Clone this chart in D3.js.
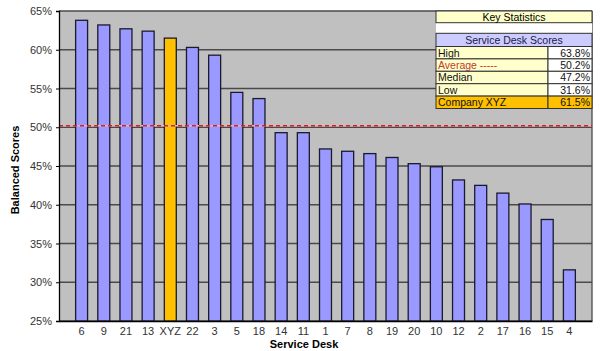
<!DOCTYPE html>
<html lang="en">
<head>
<meta charset="UTF-8">
<script src="https://d3js.org/d3.v7.min.js"></script>
<style>
  body { margin: 0; background: #fff; }
  svg text { font-family: Arial, "Liberation Sans", sans-serif; }
</style>
</head>
<body>
<div id="plot"></div>
<script>
  // data
  const desks = ["6","9","21","13","XYZ","22","3","5","18","14","11","1","7","8","19","20","10","12","2","17","16","15","4"];
  const scores = [63.8,63.2,62.7,62.4,61.5,60.3,59.3,54.5,53.7,49.3,49.3,47.2,46.9,46.6,46.1,45.3,44.9,43.2,42.5,41.5,40.1,38.1,31.6];
  const yTicks = [25,30,35,40,45,50,55,60,65];
  const average = 50.2;
  const statLabels = ["High","Average -----","Median","Low","Company XYZ"];
  const statValues = ["63.8%","50.2%","47.2%","31.6%","61.5%"];

  const width = 600, height = 351;
  const plot = {left: 59, right: 592, top: 11, bottom: 321};

  const svg = d3.select("#plot").append("svg")
      .attr("width", width)
      .attr("height", height);

  const x = d3.scaleBand()
      .domain(desks)
      .range([plot.left, plot.right])
      .paddingInner(0.46)
      .paddingOuter(0.75);

  const y = d3.scaleLinear()
      .domain([25, 65])
      .range([plot.bottom, plot.top]);

  // plot background
  svg.append("rect")
      .attr("x", plot.left).attr("y", plot.top)
      .attr("width", plot.right - plot.left).attr("height", plot.bottom - plot.top)
      .attr("fill", "#c0c0c0");

  // gridlines
  svg.append("g")
    .selectAll("line")
    .data(yTicks)
    .join("line")
      .attr("x1", plot.left).attr("x2", plot.right)
      .attr("y1", d => y(d)).attr("y2", d => y(d))
      .attr("stroke", "#4a4a4a")
      .attr("stroke-width", 1.3);

  // right frame
  svg.append("line")
      .attr("x1", plot.right).attr("x2", plot.right)
      .attr("y1", plot.top).attr("y2", plot.bottom)
      .attr("stroke", "#4a4a4a").attr("stroke-width", 1.3);

  // bars
  svg.append("g")
    .selectAll("rect")
    .data(desks.map((d, i) => ({desk: d, value: scores[i]})))
    .join("rect")
      .attr("x", d => x(d.desk))
      .attr("y", d => y(d.value))
      .attr("width", x.bandwidth())
      .attr("height", d => y(25) - y(d.value))
      .attr("fill", d => d.desk == "XYZ" ? "#ffc000" : "#9999ff")
      .attr("stroke", "#1a1a2e")
      .attr("stroke-width", 1.3);

  // average line
  svg.append("line")
      .attr("x1", plot.left).attr("x2", plot.right)
      .attr("y1", y(average)).attr("y2", y(average))
      .attr("stroke", "#f0b0b0").attr("stroke-width", 1.5);
  svg.append("line")
      .attr("x1", plot.left).attr("x2", plot.right)
      .attr("y1", y(average)).attr("y2", y(average))
      .attr("stroke", "#d0202a").attr("stroke-width", 1.5)
      .attr("stroke-dasharray", "4,3");

  // axes
  const yAxis = svg.append("g")
      .attr("transform", `translate(${plot.left},0)`)
      .call(d3.axisLeft(y).tickValues(yTicks).tickFormat(d => d + "%").tickSize(3).tickPadding(4));
  yAxis.select(".domain").attr("stroke", "#000").attr("stroke-width", 1.3);
  yAxis.selectAll("text").attr("font-size", 11).attr("fill", "#333");

  const xAxis = svg.append("g")
      .attr("transform", `translate(0,${plot.bottom})`)
      .call(d3.axisBottom(x).tickSize(0).tickPadding(6).tickSizeOuter(0));
  xAxis.select(".domain").attr("stroke", "#000").attr("stroke-width", 1.3);
  xAxis.selectAll("text").attr("font-size", 11).attr("fill", "#333");

  // axis titles
  svg.append("text")
      .attr("transform", "translate(19,170) rotate(-90)")
      .attr("text-anchor", "middle")
      .attr("font-size", 11).attr("font-weight", "bold")
      .text("Balanced Scores");
  svg.append("text")
      .attr("x", 304).attr("y", 348)
      .attr("text-anchor", "middle")
      .attr("font-size", 11).attr("font-weight", "bold")
      .text("Service Desk");

  // key statistics table
  const tx = 436, tw = 156, colX = 548;
  const table = svg.append("g");
  table.append("rect")
      .attr("x", tx).attr("y", plot.top).attr("width", plot.right - tx).attr("height", 22.5)
      .attr("fill", "#fff");
  table.append("rect")
      .attr("x", tx).attr("y", plot.top).attr("width", tw).attr("height", 11.7)
      .attr("fill", "#ffffcc").attr("stroke", "#333").attr("stroke-width", 1);
  table.append("text")
      .attr("x", tx + tw / 2).attr("y", plot.top + 9.8)
      .attr("text-anchor", "middle").attr("font-size", 10.5)
      .text("Key Statistics");

  const headY = 33.3, rowH = 12.4;
  table.append("rect")
      .attr("x", tx).attr("y", headY).attr("width", tw).attr("height", 13.2)
      .attr("fill", "#ccccff").attr("stroke", "#333").attr("stroke-width", 1);
  table.append("text")
      .attr("x", tx + tw / 2).attr("y", headY + 10.5)
      .attr("text-anchor", "middle").attr("font-size", 10.5).attr("fill", "#1a1a4a")
      .text("Service Desk Scores");

  const rows = table.selectAll("g.row")
    .data(statLabels.map((l, i) => ({label: l, value: statValues[i], i: i})))
    .join("g")
      .attr("class", "row")
      .attr("transform", d => `translate(0,${headY + 13.2 + d.i * rowH})`);
  rows.append("rect")
      .attr("x", tx).attr("width", colX - tx).attr("height", rowH)
      .attr("fill", d => d.i == 4 ? "#ffc000" : "#ffffcc")
      .attr("stroke", "#333").attr("stroke-width", 1);
  rows.append("rect")
      .attr("x", colX).attr("width", tx + tw - colX).attr("height", rowH)
      .attr("fill", d => d.i == 4 ? "#ffc000" : "#ffffff")
      .attr("stroke", "#333").attr("stroke-width", 1);
  rows.append("text")
      .attr("x", tx + 2).attr("y", 10)
      .attr("font-size", 10.5)
      .attr("fill", d => d.i == 1 ? "#c0392b" : "#111")
      .text(d => d.label);
  rows.append("text")
      .attr("x", tx + tw - 2).attr("y", 10)
      .attr("text-anchor", "end").attr("font-size", 10.5)
      .attr("fill", "#111")
      .text(d => d.value);
</script>
</body>
</html>
